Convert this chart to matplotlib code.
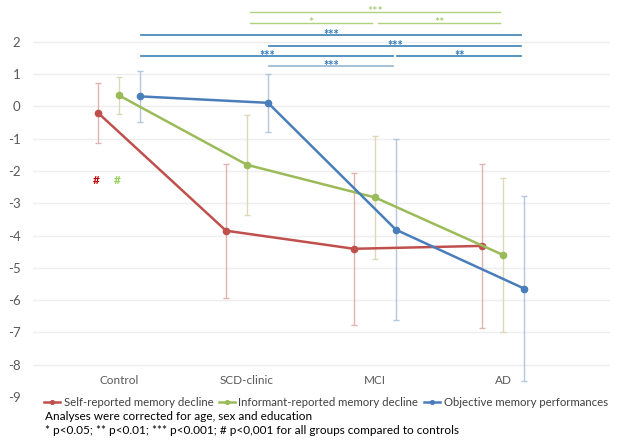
import numpy as np
import matplotlib
matplotlib.use('Agg')
import matplotlib.pyplot as plt

groups = ['Control', 'SCD-clinic', 'MCI', 'AD']

self_reported = [-0.20, -3.85, -4.41, -4.32]
self_reported_err = [0.92, 2.08, 2.36, 2.55]
informant = [0.34, -1.81, -2.82, -4.60]
informant_err = [0.58, 1.54, 1.91, 2.38]
objective = [0.31, 0.11, -3.82, -5.64]
objective_err = [0.80, 0.89, 2.80, 2.85]

series_names = ['Self-reported memory decline', 'Informant-reported memory decline',
                'Objective memory performances']

# significance brackets: (series, from group, to group, stars)
green_brackets = [(1, 3, '***'), (1, 2, '*'), (2, 3, '**')]
blue_brackets = [(0, 3, '***'), (1, 3, '***'), (0, 2, '***'), (2, 3, '**'), (1, 2, '***')]

footnote1 = 'Analyses were corrected for age, sex and education'
footnote2 = '* p<0.05; ** p<0.01; *** p<0.001; # p<0,001 for all groups compared to controls'

plt.rcParams['font.family'] = ['Lato', 'DejaVu Sans']
plt.rcParams['axes.unicode_minus'] = False

colors = ['#c0504d', '#9bbb59', '#4a7ebb']
err_colors = ['#e3b3b2', '#ddd9b8', '#b3c7df']
offsets = [-0.164, 0.0, 0.164]

fig = plt.figure(figsize=(6.21, 4.41), dpi=100)
ax = fig.add_axes([33 / 621, 1 - 397 / 441, (610 - 33) / 621, (397 - 5) / 441])

x = np.arange(len(groups))
data = [(self_reported, self_reported_err), (informant, informant_err), (objective, objective_err)]
for i, (vals, errs) in enumerate(data):
    xs = x + offsets[i]
    ax.errorbar(xs, vals, yerr=errs, fmt='none', ecolor=err_colors[i], elinewidth=1,
                capsize=2.5, capthick=1, zorder=2)
    ax.plot(xs, vals, color=colors[i], lw=1.8, marker='o', ms=4.5, zorder=3,
            label=series_names[i])

# hash marks
ax.text(-0.18, -2.3, '#', color='#c00000', fontsize=8.5, fontweight='bold', ha='center', va='center')
ax.text(-0.01, -2.3, '#', color='#92d050', fontsize=8.5, fontweight='bold', ha='center', va='center')

green_levels = [2.92, 2.59, 2.59]
blue_levels = [2.22, 1.87, 1.57, 1.57, 1.26]
for (a, b, s), lev in zip(green_brackets, green_levels):
    x0, x1 = a + offsets[1] + 0.02, b + offsets[1] - 0.02
    ax.plot([x0, x1], [lev, lev], color='#b0d27e', lw=1, clip_on=False)
    ax.text((x0 + x1) / 2, lev - 0.12, s, color='#9bc35f', fontsize=9, ha='center',
            va='baseline')
for k, ((a, b, s), lev) in enumerate(zip(blue_brackets, blue_levels)):
    x0, x1 = a + offsets[2] + 0.01, b + offsets[2] - 0.02
    lc = '#94b6d2' if k == 4 else '#3b82b8'
    ax.plot([x0, x1], [lev, lev], color=lc, lw=1.2, clip_on=False)
    ax.text((x0 + x1) / 2, lev - 0.12, s, color='#2e78b5', fontsize=9, ha='center',
            va='baseline', fontweight='bold')

for i, g in enumerate(groups):
    ax.text(i, -8.5, g, color='#595959', fontsize=8.5, ha='center', va='center')

ax.set_xlim(-0.672, 3.836)
ax.set_ylim(-9, 3.14)
ax.set_yticks(range(-9, 3))
ax.set_xticks([])
ax.tick_params(axis='y', length=0, pad=9, labelsize=9.5, labelcolor='#595959')
ax.grid(axis='y', color='#eeeeee', lw=1)
ax.get_ygridlines()[0].set_visible(False)
ax.set_axisbelow(True)
for sp in ax.spines.values():
    sp.set_visible(False)

fig.legend(loc='center', bbox_to_anchor=(326 / 621, 1 - 402 / 441), ncol=3, frameon=False,
           fontsize=8.2, handlelength=1.4, handletextpad=0.3, columnspacing=0.5,
           labelcolor='#404040', borderpad=0, markerscale=0.6)

fig.text(45 / 621, 1 - 417 / 441, footnote1, fontsize=8.5, va='center', ha='left', color='black')
fig.text(45 / 621, 1 - 431 / 441, footnote2, fontsize=8.5, va='center', ha='left', color='black')

fig.savefig('out.png', dpi=100)
